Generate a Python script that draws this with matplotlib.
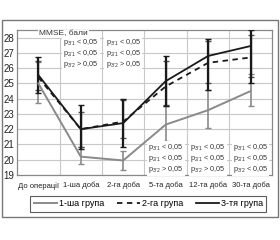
import numpy as np
import matplotlib.pyplot as plt
from matplotlib.patches import Rectangle

plt.rcParams['font.family'] = ['Liberation Sans', 'DejaVu Sans']
plt.rcParams['mathtext.fontset'] = 'custom'
plt.rcParams['mathtext.rm'] = 'Liberation Sans'
plt.rcParams['mathtext.it'] = 'Liberation Sans'

days = ['До операції', '1-ша доба', '2-га доба', '5-та доба', '12-та доба', '30-та доба']
group1 = [25.0, 20.2, 19.95, 22.3, 23.25, 24.5]
group1_lo = [23.7, 19.7, 19.3, 21.2, 22.1, 23.5]
group1_hi = [26.4, 20.8, 20.6, 23.5, 24.6, 25.6]
group2 = [25.4, 22.0, 22.5, 24.8, 26.35, 26.7]
group2_lo = [24.6, 20.8, 21.4, 23.6, 25.0, 25.4]
group2_hi = [26.5, 23.1, 23.9, 26.5, 27.8, 28.2]
group3 = [25.55, 22.0, 22.4, 25.15, 26.8, 27.45]
group3_lo = [24.4, 20.7, 20.8, 23.5, 24.6, 25.0]
group3_hi = [26.7, 23.6, 24.0, 26.8, 27.9, 28.5]
group_names = ['1-ша група', '2-га група', '3-тя група']

p_top = [r'p$_{3/1}$ < 0,05', r'p$_{2/1}$ < 0,05', r'p$_{3/2}$ > 0,05']
p_last = [r'p$_{3/1}$ < 0,05', r'p$_{2/1}$ < 0,05', r'p$_{3/2}$ < 0,05']

fig = plt.figure(figsize=(2.8, 2.4), dpi=100)
ax = fig.add_axes([0.061, 0.271, 0.91, 0.604])
x = np.arange(len(days))

def errs(v, lo, hi):
    return [np.array(v) - np.array(lo), np.array(hi) - np.array(v)]

ax.errorbar(x, group1, yerr=errs(group1, group1_lo, group1_hi), fmt='none',
            ecolor='#8a8a8a', elinewidth=1.2, capsize=2, capthick=1, zorder=3)
ax.errorbar(x, group2, yerr=errs(group2, group2_lo, group2_hi), fmt='none',
            ecolor='#555555', elinewidth=1.0, capsize=2, capthick=1, zorder=3)
ax.errorbar(x, group3, yerr=errs(group3, group3_lo, group3_hi), fmt='none',
            ecolor='#1a1a1a', elinewidth=1.6, capsize=2, capthick=1, zorder=4)

l1, = ax.plot(x, group1, color='#8a8a8a', lw=1.4, zorder=5)
l2, = ax.plot(x, group2, color='#1a1a1a', lw=1.3, ls=(0, (3, 2.5)), zorder=5)
l3, = ax.plot(x, group3, color='#1a1a1a', lw=1.3, zorder=6)

ax.set_xlim(-0.5, 5.5)
ax.set_ylim(19, 28.5)
ax.set_yticks(range(19, 29))
ax.set_xticks(x)
ax.set_xticklabels(days)
ax.set_xticks(np.arange(0.5, 5.5, 1), minor=True)
ax.tick_params(axis='both', which='both', length=0, pad=2, colors='#222222')
ax.tick_params(axis='y', labelsize=7)
ax.tick_params(axis='x', labelsize=5.5, pad=5)
ax.grid(True, which='major', axis='y', color='#c8c8c8', lw=0.8)
ax.grid(True, which='minor', axis='x', color='#c8c8c8', lw=0.8)
ax.set_axisbelow(True)
for s in ax.spines.values():
    s.set_color('#888888')
    s.set_linewidth(0.9)

ax.text(0.02, 28.25, 'MMSE, бали', fontsize=6, color='#333333', ha='left', va='center',
        bbox=dict(facecolor='white', edgecolor='none', pad=0.5), zorder=7)

def pbox(xc, ytop, lines):
    ax.text(xc, ytop, '\n'.join(lines), fontsize=5.2, color='#333333', ha='center', va='top',
            linespacing=1.0, bbox=dict(facecolor='white', edgecolor='none', pad=0.8), zorder=7)

pbox(1, 28.05, p_top)
pbox(2, 28.05, p_top)
pbox(3, 21.15, p_top)
pbox(4, 21.15, p_top)
pbox(5, 21.15, p_last)

leg = fig.legend([l1, l2, l3], group_names, loc='center', bbox_to_anchor=(0.53, 0.15),
                 ncol=3, fontsize=6.5, frameon=True, fancybox=False, handlelength=2.6,
                 handletextpad=0.2, columnspacing=1.4, borderpad=0.35)
leg.get_frame().set_edgecolor('#333333')
leg.get_frame().set_linewidth(0.8)

fig.patches.append(Rectangle((0.008, 0.095), 0.985, 0.82, transform=fig.transFigure,
                             fill=False, edgecolor='#777777', lw=1.0))

fig.savefig('out.png', dpi=100)
